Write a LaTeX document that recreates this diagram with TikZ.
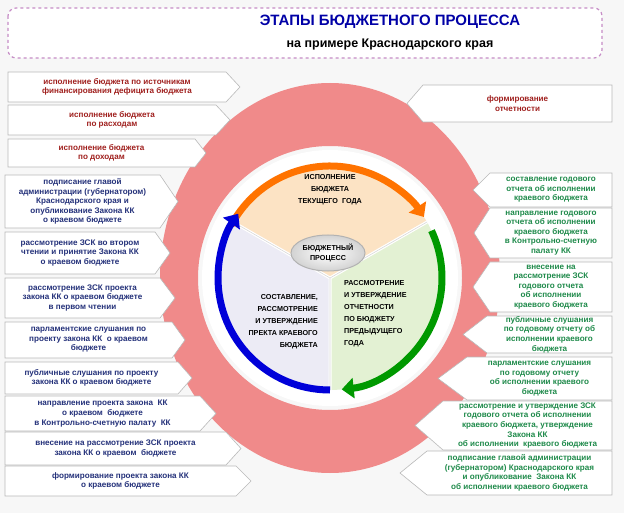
\documentclass[tikz,border=0pt]{standalone}
\usepackage{fontspec}
\setmainfont{Liberation Sans}
\usepackage{tikz}
\usetikzlibrary{arrows.meta,shapes.geometric}

\definecolor{ringred}{HTML}{F08A8A}
\definecolor{txtred}{HTML}{A0201E}
\definecolor{txtblue}{HTML}{24317A}
\definecolor{txtgreen}{HTML}{1E8A4A}
\definecolor{peach}{HTML}{FCE3C4}
\definecolor{lav}{HTML}{ECEBF5}
\definecolor{mint}{HTML}{E3F1D3}

\tikzset{
  callbox/.style={draw=gray!55, fill=white, line width=0.6pt},
  calltext/.style={font=\fontsize{8.1}{9.6}\selectfont\bfseries, align=center, inner sep=0pt, text=\callcol},
  sectortext/.style={font=\fontsize{7.2}{12}\selectfont\bfseries, align=center, inner sep=0pt},
}
\def\callcol{txtred}
% box with a point to the right: name, x1, y1, x2, y2, tip, text
\newcommand{\lcall}[7]{%
  \draw[callbox] (#2,#3) -- (#4,#3) -- (#6,{(#3+#5)/2}) -- (#4,#5) -- (#2,#5) -- cycle;
  \node[calltext] (#1) at ({(#2+#4)/2},{(#3+#5)/2}) {#7};}
% box with a point to the left
\newcommand{\rcall}[7]{%
  \draw[callbox] (#2,#3) -- (#4,#3) -- (#4,#5) -- (#2,#5) -- (#6,{(#3+#5)/2}) -- cycle;
  \node[calltext] (#1) at ({(#2+#4)/2},{(#3+#5)/2}) {#7};}

\begin{document}
\begin{tikzpicture}[x=1pt,y=-1pt]
\fill[gray!6] (0,0) rectangle (624,513);
\useasboundingbox (0,0) rectangle (624,513);

% title
\draw[draw=violet!45, dashed, line width=1.2pt, fill=white, rounded corners=8pt] (8,8) rectangle (602,58);
\node[font=\fontsize{15}{16}\selectfont\bfseries, text=blue!65!black] (title) at (390,22) {ЭТАПЫ БЮДЖЕТНОГО ПРОЦЕССА};
\node[font=\fontsize{12.5}{13}\selectfont\bfseries] (subtitle) at (390,44) {на примере Краснодарского края};

% big ring
\coordinate (c) at (330,278);
\fill[ringred, even odd rule] (c) ellipse [x radius=170pt, y radius=195pt] (c) circle [radius=132pt];
\fill[white] (c) circle [radius=128pt];

% sectors
\fill[peach] (c) -- ++(30:112pt) arc[start angle=30, end angle=150, radius=112pt] -- cycle;
\fill[lav] (c) -- ++(150:112pt) arc[start angle=150, end angle=270, radius=112pt] -- cycle;
\fill[mint] (c) -- ++(270:112pt) arc[start angle=270, end angle=390, radius=112pt] -- cycle;
\draw[white, line width=3pt] (c) -- ++(30:113pt) (c) -- ++(150:113pt) (c) -- ++(270:113pt);
\draw[gray!30, line width=0.6pt] (c) -- ++(30:112pt) (c) -- ++(150:112pt) (c) -- ++(270:112pt);

% arrows round the circle
\draw[orange!90!red, line width=7pt, -{Triangle[length=12pt,width=20pt]}] (c) ++(152:112pt) arc[start angle=152, end angle=33, radius=112pt];
\draw[green!60!black, line width=7pt, -{Triangle[length=12pt,width=20pt]}] (c) ++(25:112pt) arc[start angle=25, end angle=-84, radius=112pt];
\draw[blue!85!black, line width=7pt, -{Triangle[length=12pt,width=20pt]}] (c) ++(270:112pt) arc[start angle=270, end angle=145, radius=112pt];

\node[sectortext] (exec) at (330,190) {ИСПОЛНЕНИЕ\\БЮДЖЕТА\\ТЕКУЩЕГО\ \ ГОДА};
\node[sectortext, align=right, anchor=east] (draft) at (318,322) {СОСТАВЛЕНИЕ,\\РАССМОТРЕНИЕ\\И УТВЕРЖДЕНИЕ\\ПРЕКТА КРАЕВОГО\\БЮДЖЕТА};
\node[sectortext, align=left, anchor=west] (report) at (344,314) {РАССМОТРЕНИЕ\\И УТВЕРЖДЕНИЕ\\ОТЧЕТНОСТИ\\ПО БЮДЖЕТУ\\ПРЕДЫДУЩЕГО\\ГОДА};
\node[draw=gray!60, line width=1pt, ellipse, shade, outer color=gray!35, inner color=white, minimum width=74pt, minimum height=36pt, sectortext, font=\fontsize{7.2}{9.5}\selectfont\bfseries] (proc) at (328,253) {БЮДЖЕТНЫЙ\\ПРОЦЕСС};

% left callouts
\def\callcol{txtred}
\lcall{l1}{8}{72}{226}{102}{240}{исполнение бюджета по источникам\\финансирования дефицита бюджета}
\lcall{l2}{8}{105}{216}{135}{230}{исполнение бюджета\\по расходам}
\lcall{l3}{8}{139}{195}{167}{206}{исполнение бюджета\\по доходам}
\def\callcol{txtblue}
\lcall{l4}{5}{175}{160}{228}{178}{подписание главой\\администрации (губернатором)\\Краснодарского края и\\опубликование Закона КК\\о краевом бюджете}
\lcall{l5}{5}{232}{155}{274}{170}{рассмотрение ЗСК во втором\\чтении и принятие Закона КК\\о краевом бюджете}
\lcall{l6}{5}{278}{160}{318}{175}{рассмотрение ЗСК проекта\\закона КК о краевом бюджете\\в первом чтении}
\lcall{l7}{5}{322}{172}{358}{185}{парламентские слушания по\\проекту закона КК\ \ о краевом\\бюджете}
\lcall{l8}{5}{362}{178}{394}{192}{публичные слушания по проекту\\закона КК о краевом бюджете}
\lcall{l9}{5}{396}{200}{431}{216}{направление проекта закона\ \ КК\\о краевом\ \ бюджете\\в Контрольно-счетную палату\ \ КК}
\lcall{l10}{5}{432}{226}{465}{241}{внесение на рассмотрение ЗСК проекта\\закона КК о краевом\ \ бюджете}
\lcall{l11}{5}{466}{236}{496}{251}{формирование проекта закона КК\\о краевом бюджете}

% right callouts
\def\callcol{txtred}
\rcall{r0}{423}{85}{612}{122}{407}{формирование\\отчетности}
\def\callcol{txtgreen}
\rcall{r1}{490}{173}{612}{207}{473}{составление годового\\отчета об исполнении\\краевого бюджета}
\rcall{r2}{490}{208}{612}{258}{474}{направление годового\\отчета об исполнении\\краевого бюджета\\в Контрольно-счетную\\палату КК}
\rcall{r3}{490}{262}{612}{312}{473}{внесение на\\рассмотрение ЗСК\\годового отчета\\об исполнении\\краевого бюджета}
\rcall{r4}{487}{316}{612}{353}{463}{публичные слушания\\по годовому отчету об\\исполнении краевого\\бюджета}
\rcall{r5}{467}{357}{612}{400}{438}{парламентские слушания\\по годовому отчету\\об исполнении краевого\\бюджета}
\rcall{r6}{443}{401}{612}{450}{415}{рассмотрение и утверждение ЗСК\\годового отчета об исполнении\\краевого бюджета, утверждение\\Закона КК\\об исполнении\ \ краевого бюджета}
\rcall{r7}{427}{451}{612}{495}{400}{подписание главой администрации\\(губернатором) Краснодарского края\\и опубликование\ \ Закона КК\\об исполнении краевого бюджета}
\end{tikzpicture}
\end{document}
